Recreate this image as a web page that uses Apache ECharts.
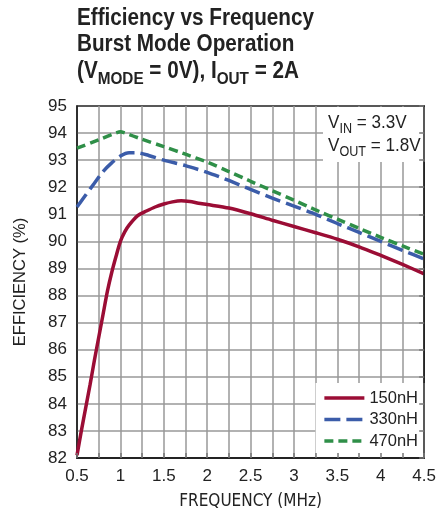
<!DOCTYPE html>
<html>
<head>
<meta charset="utf-8">
<script src="https://cdn.jsdelivr.net/npm/echarts@6/dist/echarts.min.js"></script>
<style>
  html, body { margin: 0; padding: 0; background: #fff; }
  #chart { width: 439px; height: 516px; }
</style>
</head>
<body>
<div id="chart"></div>
<script>
const FONT = '"Liberation Sans", Arial, sans-serif';
const NARROW = '"DejaVu Sans Condensed", "Liberation Sans", sans-serif';
const INK = '#222';

// (frequency in MHz, efficiency in %)
const freq150 = [0.5, 0.55, 0.6, 0.65, 0.7, 0.75, 0.8, 0.85, 0.9, 0.95, 1.0, 1.05, 1.1, 1.2, 1.3, 1.4, 1.5, 1.6, 1.7, 1.8, 1.9, 2.0, 2.25, 2.5, 2.75, 3.0, 3.25, 3.5, 3.75, 4.0, 4.25, 4.5];
const eff150 = [82.1, 83.0, 83.85, 84.7, 85.6, 86.45, 87.3, 88.15, 88.85, 89.45, 90.0, 90.35, 90.6, 90.95, 91.12, 91.27, 91.38, 91.46, 91.5, 91.47, 91.41, 91.36, 91.23, 91.02, 90.78, 90.55, 90.32, 90.08, 89.8, 89.48, 89.15, 88.8];

const freq330 = [0.5, 0.6, 0.7, 0.8, 0.9, 1.0, 1.1, 1.2, 1.3, 1.5, 1.75, 2.0, 2.25, 2.5, 2.75, 3.0, 3.25, 3.5, 3.75, 4.0, 4.25, 4.5];
const eff330 = [91.27, 91.71, 92.15, 92.58, 92.9, 93.15, 93.27, 93.27, 93.2, 93.0, 92.8, 92.55, 92.25, 91.92, 91.6, 91.3, 91.0, 90.66, 90.33, 90.0, 89.67, 89.35];

const freq470 = [0.5, 0.75, 1.0, 1.25, 1.5, 1.75, 2.0, 2.25, 2.5, 2.75, 3.0, 3.25, 3.5, 3.75, 4.0, 4.25, 4.5];
const eff470 = [93.44, 93.75, 94.05, 93.77, 93.5, 93.22, 92.93, 92.58, 92.22, 91.87, 91.52, 91.16, 90.82, 90.48, 90.15, 89.83, 89.52];

const seriesNames = ['150nH', '330nH', '470nH'];
const seriesColors = ['#9b0d35', '#3b5ca9', '#2f8f48'];

function pairs(xs, ys) {
  return xs.map((x, i) => [x, ys[i]]);
}

const chart = echarts.init(document.getElementById('chart'));

const option = {
  animation: false,
  grid: {
    left: 77,
    right: 10,
    top: 106,
    bottom: 58,
    show: true,
    borderColor: INK,
    borderWidth: 1.5
  },
  legend: {
    orient: 'vertical',
    right: 11,
    bottom: 59,
    backgroundColor: '#fff',
    padding: [6, 10, 7, 7],
    itemWidth: 40,
    itemHeight: 14,
    itemGap: 3.5,
    itemStyle: { opacity: 0 }, // hide the dot, keep the line sample
    lineStyle: { width: 3.5 },
    textStyle: { fontFamily: FONT, fontSize: 16.5, color: INK, lineHeight: 18 },
    data: seriesNames
  },
  xAxis: [
    {
      type: 'value',
      min: 0.5,
      max: 4.5,
      interval: 0.5,
      name: 'FREQUENCY (MHz)',
      nameLocation: 'middle',
      nameGap: 35,
      nameTextStyle: { fontFamily: NARROW, fontSize: 17, color: INK },
      axisLine: { show: true, lineStyle: { color: INK, width: 1.5 } },
      axisTick: { show: false },
      axisLabel: { fontFamily: FONT, fontSize: 17, color: INK, margin: 10 },
      splitLine: { show: true, showMinLine: false, showMaxLine: false, lineStyle: { color: '#999', width: 1.5 } },
      minorTick: { show: false, splitNumber: 2 },
      minorSplitLine: { show: true, lineStyle: { color: '#999', width: 1.5 } }
    },
    {
      // tick overlay so the inward ticks show over the legend box
      type: 'value',
      position: 'bottom',
      min: 0.5,
      max: 4.5,
      interval: 0.25,
      z: 6,
      axisLine: { show: true, lineStyle: { color: INK, width: 1.5 } },
      axisTick: { show: true, inside: true, length: 5, lineStyle: { color: '#777', width: 1.5 } },
      axisLabel: { show: false },
      splitLine: { show: false }
    }
  ],
  yAxis: [
    {
      type: 'value',
      min: 82,
      max: 95,
      interval: 1,
      name: 'EFFICIENCY (%)',
      nameLocation: 'middle',
      nameGap: 48,
      nameTextStyle: { fontFamily: FONT, fontSize: 16.5, color: INK },
      axisLine: { show: true, lineStyle: { color: INK, width: 1.5 } },
      axisTick: { show: false },
      axisLabel: { fontFamily: FONT, fontSize: 17, color: INK, margin: 10 },
      splitLine: { show: true, showMinLine: false, showMaxLine: false, lineStyle: { color: '#999', width: 1.5 } }
    },
    {
      type: 'value',
      position: 'right',
      min: 82,
      max: 95,
      interval: 1,
      z: 6,
      axisLine: { show: true, lineStyle: { color: INK, width: 1.5 } },
      axisTick: { show: true, inside: true, length: 5, lineStyle: { color: '#777', width: 1.5 } },
      axisLabel: { show: false },
      splitLine: { show: false }
    }
  ],
  graphic: [
    {
      // title, squeezed sideways to mimic the condensed face
      type: 'text',
      x: 77,
      y: 5.5,
      scaleX: 0.9,
      style: {
        text: '{t|Efficiency vs Frequency}\n{t|Burst Mode Operation}\n{t|(V}{s|MODE}{t| = 0V), I}{s|OUT}{t| = 2A}',
        rich: {
          t: { fontFamily: FONT, fontSize: 23, fontWeight: 'bold', fill: INK, lineHeight: 26.3 },
          s: { fontFamily: FONT, fontSize: 17, fontWeight: 'bold', fill: INK, lineHeight: 9, padding: [17, 0, 0, 0] }
        }
      }
    },
    {
      type: 'rect',
      z: 5,
      shape: { x: 323, y: 107, width: 105, height: 55 },
      style: { fill: '#fff' }
    },
    {
      type: 'text',
      z: 6,
      x: 328,
      y: 112,
      scaleX: 0.9,
      style: {
        text: '{n|V}{s|IN}{n| = 3.3V}\n{n|V}{s|OUT}{n| = 1.8V}',
        rich: {
          n: { fontFamily: FONT, fontSize: 19, fill: INK, lineHeight: 22.5 },
          s: { fontFamily: FONT, fontSize: 14, fill: INK, lineHeight: 8, padding: [12, 0, 0, 0] }
        }
      }
    }
  ],
  series: [
    {
      name: seriesNames[0],
      type: 'line',
      data: pairs(freq150, eff150),
      smooth: 0.25,
      symbol: 'none',
      color: seriesColors[0],
      lineStyle: { width: 3.5, color: seriesColors[0] }
    },
    {
      name: seriesNames[1],
      type: 'line',
      data: pairs(freq330, eff330),
      smooth: 0.2,
      symbol: 'none',
      color: seriesColors[1],
      lineStyle: { width: 3.5, color: seriesColors[1], type: [16, 6] }
    },
    {
      name: seriesNames[2],
      type: 'line',
      data: pairs(freq470, eff470),
      smooth: 0.1,
      symbol: 'none',
      color: seriesColors[2],
      lineStyle: { width: 3.5, color: seriesColors[2], type: [9, 5] }
    }
  ]
};

chart.setOption(option);
</script>
</body>
</html>
